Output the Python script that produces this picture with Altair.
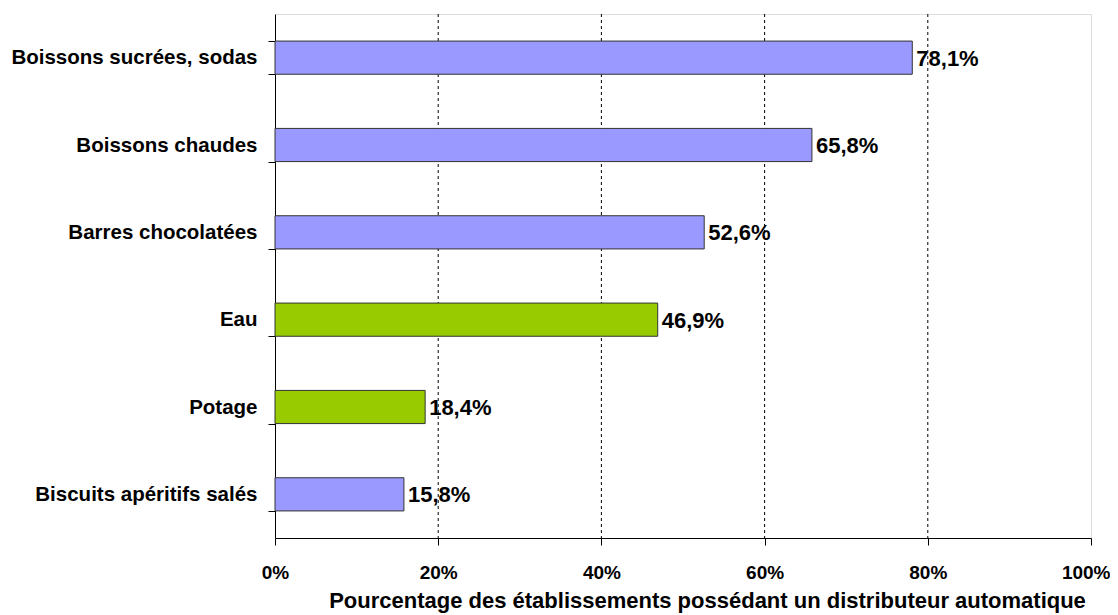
import altair as alt
import pandas as pd

categories = ["Boissons sucrées, sodas", "Boissons chaudes", "Barres chocolatées",
              "Eau", "Potage", "Biscuits apéritifs salés"]
values = [78.1, 65.8, 52.6, 46.9, 18.4, 15.8]
value_labels = ["78,1%", "65,8%", "52,6%", "46,9%", "18,4%", "15,8%"]
groups = ["autre", "autre", "autre", "eau", "eau", "autre"]
x_ticks = [0, 20, 40, 60, 80, 100]
grid_values = [20, 40, 60, 80]

FONT = "Liberation Sans"

df = pd.DataFrame({"cat": categories, "val": values, "lab": value_labels, "grp": groups})
grid_df = pd.DataFrame({"g": grid_values})

x_scale = alt.Scale(domain=[0, 100], nice=False, zero=True)
y_scale = alt.Scale(domain=categories, paddingInner=0.62, paddingOuter=0.31)

grid = alt.Chart(grid_df).mark_rule(color="black", strokeDash=[3, 3], strokeWidth=1).encode(
    x=alt.X("g:Q", scale=x_scale)
)

bars = alt.Chart(df).mark_bar(stroke="#333333", strokeWidth=1).encode(
    x=alt.X("val:Q", scale=x_scale,
            axis=alt.Axis(values=x_ticks, labelExpr="datum.value + '%'", grid=False,
                          title="Pourcentage des établissements possédant un distributeur automatique",
                          titleFont=FONT, titleFontSize=22, titleFontWeight="bold", titleColor="black",
                          titlePadding=8, titleX=432, titleAlign="center",
                          labelFont=FONT, labelFontSize=19, labelFontWeight="bold", labelColor="black",
                          labelPadding=18, tickSize=7, tickColor="black", domainColor="black",
                          labelFlush=False,
                          labelAlign={"condition": {"test": "datum.value == 100", "value": "right"},
                                      "value": "center"},
                          labelOffset={"condition": {"test": "datum.value == 100", "value": 19},
                                       "value": 0})),
    y=alt.Y("cat:N", scale=y_scale, sort=categories,
            axis=alt.Axis(title=None, tickBand="extent", labelFont=FONT, labelFontSize=20.5,
                          labelFontWeight="bold", labelColor="black", labelPadding=11,
                          tickSize=7, tickColor="black", domainColor="black", labelLimit=400)),
    color=alt.Color("grp:N", scale=alt.Scale(domain=["autre", "eau"], range=["#9999FF", "#99CC00"]),
                    legend=None),
)

text = alt.Chart(df).mark_text(align="left", baseline="middle", dx=4, dy=1, font=FONT,
                               fontSize=22, fontWeight="bold", color="black").encode(
    x=alt.X("val:Q", scale=x_scale),
    y=alt.Y("cat:N", scale=y_scale, sort=categories),
    text="lab:N",
)

chart = alt.layer(grid, bars, text).properties(
    width=816, height=524,
    autosize=alt.AutoSizeParams(type="none"),
    padding={"left": 267, "top": 6, "right": 19, "bottom": 76},
).configure_view(stroke="#808080", strokeWidth=1).configure(background="white")

chart.save("out.html", embed_options={"renderer": "svg", "actions": False})
